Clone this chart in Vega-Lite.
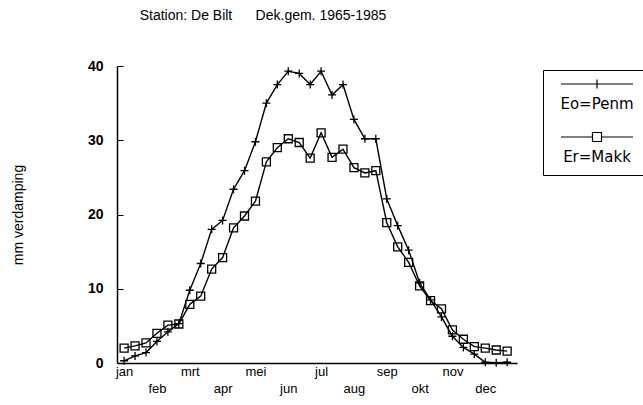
{
  "$schema": "https://vega.github.io/schema/vega-lite/v6.json",
  "width": 400,
  "height": 297,
  "autosize": "none",
  "padding": {"left": 117, "top": 66, "right": 126, "bottom": 42},
  "background": "white",
  "config": {"view": {"stroke": null}, "font": "Liberation Sans"},
  "title": {
    "text": "Station: De Bilt\u00a0\u00a0\u00a0\u00a0\u00a0\u00a0Dek.gem. 1965-1985",
    "fontSize": 14,
    "fontWeight": "normal",
    "font": "Liberation Sans",
    "color": "black",
    "anchor": "middle",
    "offset": 36,
    "dx": -54
  },
  "data": {
    "values": [
      {"dek": 1, "serie": "Eo=Penm", "mm": 0.3},
      {"dek": 2, "serie": "Eo=Penm", "mm": 0.95},
      {"dek": 3, "serie": "Eo=Penm", "mm": 1.4},
      {"dek": 4, "serie": "Eo=Penm", "mm": 2.9},
      {"dek": 5, "serie": "Eo=Penm", "mm": 4.2},
      {"dek": 6, "serie": "Eo=Penm", "mm": 5.3},
      {"dek": 7, "serie": "Eo=Penm", "mm": 9.8},
      {"dek": 8, "serie": "Eo=Penm", "mm": 13.4},
      {"dek": 9, "serie": "Eo=Penm", "mm": 18.0},
      {"dek": 10, "serie": "Eo=Penm", "mm": 19.2},
      {"dek": 11, "serie": "Eo=Penm", "mm": 23.4},
      {"dek": 12, "serie": "Eo=Penm", "mm": 25.9},
      {"dek": 13, "serie": "Eo=Penm", "mm": 29.8},
      {"dek": 14, "serie": "Eo=Penm", "mm": 35.0},
      {"dek": 15, "serie": "Eo=Penm", "mm": 37.5},
      {"dek": 16, "serie": "Eo=Penm", "mm": 39.3},
      {"dek": 17, "serie": "Eo=Penm", "mm": 39.0},
      {"dek": 18, "serie": "Eo=Penm", "mm": 37.5},
      {"dek": 19, "serie": "Eo=Penm", "mm": 39.3},
      {"dek": 20, "serie": "Eo=Penm", "mm": 36.1},
      {"dek": 21, "serie": "Eo=Penm", "mm": 37.5},
      {"dek": 22, "serie": "Eo=Penm", "mm": 32.8},
      {"dek": 23, "serie": "Eo=Penm", "mm": 30.2},
      {"dek": 24, "serie": "Eo=Penm", "mm": 30.2},
      {"dek": 25, "serie": "Eo=Penm", "mm": 22.1},
      {"dek": 26, "serie": "Eo=Penm", "mm": 18.5},
      {"dek": 27, "serie": "Eo=Penm", "mm": 15.2},
      {"dek": 28, "serie": "Eo=Penm", "mm": 10.8},
      {"dek": 29, "serie": "Eo=Penm", "mm": 8.5},
      {"dek": 30, "serie": "Eo=Penm", "mm": 6.2},
      {"dek": 31, "serie": "Eo=Penm", "mm": 3.6},
      {"dek": 32, "serie": "Eo=Penm", "mm": 2.1},
      {"dek": 33, "serie": "Eo=Penm", "mm": 1.2},
      {"dek": 34, "serie": "Eo=Penm", "mm": 0.1},
      {"dek": 35, "serie": "Eo=Penm", "mm": 0.05},
      {"dek": 36, "serie": "Eo=Penm", "mm": 0.1},
      {"dek": 1, "serie": "Er=Makk", "mm": 2.0},
      {"dek": 2, "serie": "Er=Makk", "mm": 2.3},
      {"dek": 3, "serie": "Er=Makk", "mm": 2.7},
      {"dek": 4, "serie": "Er=Makk", "mm": 4.0},
      {"dek": 5, "serie": "Er=Makk", "mm": 5.1},
      {"dek": 6, "serie": "Er=Makk", "mm": 5.25},
      {"dek": 7, "serie": "Er=Makk", "mm": 7.9},
      {"dek": 8, "serie": "Er=Makk", "mm": 9.0},
      {"dek": 9, "serie": "Er=Makk", "mm": 12.65},
      {"dek": 10, "serie": "Er=Makk", "mm": 14.2},
      {"dek": 11, "serie": "Er=Makk", "mm": 18.2},
      {"dek": 12, "serie": "Er=Makk", "mm": 19.8},
      {"dek": 13, "serie": "Er=Makk", "mm": 21.8},
      {"dek": 14, "serie": "Er=Makk", "mm": 27.1},
      {"dek": 15, "serie": "Er=Makk", "mm": 29.0},
      {"dek": 16, "serie": "Er=Makk", "mm": 30.2},
      {"dek": 17, "serie": "Er=Makk", "mm": 29.7},
      {"dek": 18, "serie": "Er=Makk", "mm": 27.6},
      {"dek": 19, "serie": "Er=Makk", "mm": 31.0},
      {"dek": 20, "serie": "Er=Makk", "mm": 27.7},
      {"dek": 21, "serie": "Er=Makk", "mm": 28.8},
      {"dek": 22, "serie": "Er=Makk", "mm": 26.3},
      {"dek": 23, "serie": "Er=Makk", "mm": 25.6},
      {"dek": 24, "serie": "Er=Makk", "mm": 25.9},
      {"dek": 25, "serie": "Er=Makk", "mm": 18.9},
      {"dek": 26, "serie": "Er=Makk", "mm": 15.65},
      {"dek": 27, "serie": "Er=Makk", "mm": 13.55},
      {"dek": 28, "serie": "Er=Makk", "mm": 10.4},
      {"dek": 29, "serie": "Er=Makk", "mm": 8.4},
      {"dek": 30, "serie": "Er=Makk", "mm": 7.3},
      {"dek": 31, "serie": "Er=Makk", "mm": 4.45},
      {"dek": 32, "serie": "Er=Makk", "mm": 3.2},
      {"dek": 33, "serie": "Er=Makk", "mm": 2.2},
      {"dek": 34, "serie": "Er=Makk", "mm": 2.0},
      {"dek": 35, "serie": "Er=Makk", "mm": 1.75},
      {"dek": 36, "serie": "Er=Makk", "mm": 1.6}
    ]
  },
  "encoding": {
    "x": {
      "field": "dek",
      "type": "quantitative",
      "scale": {"domain": [0.35, 36.9], "nice": false, "zero": false},
      "axis": {
        "title": null,
        "values": [1, 4, 7, 10, 13, 16, 19, 22, 25, 28, 31, 34],
        "labelExpr": "['jan','feb','mrt','apr','mei','jun','jul','aug','sep','okt','nov','dec'][floor((datum.value - 1) / 3)]",
        "ticks": false,
        "grid": false,
        "domainColor": "black",
        "domainWidth": 1.5,
        "labelColor": "black",
        "labelFontSize": 13,
        "labelFont": "Liberation Sans",
        "labelBaseline": "top",
        "labelPadding": {"condition": {"test": "(datum.value - 4) % 6 == 0", "value": 19}, "value": 2}
      }
    },
    "y": {
      "field": "mm",
      "type": "quantitative",
      "scale": {"domain": [0, 40], "nice": false},
      "axis": {
        "title": "mm verdamping",
        "titleFontSize": 14,
        "titleFontWeight": "normal",
        "titleFont": "Liberation Sans",
        "titleColor": "black",
        "titlePadding": 62,
        "values": [0, 10, 20, 30, 40],
        "grid": false,
        "domainColor": "black",
        "domainWidth": 1.5,
        "tickColor": "black",
        "tickSize": -6,
        "labelPadding": 20,
        "labelColor": "black",
        "labelFontSize": 14,
        "labelFontWeight": "bold",
        "labelFont": "Liberation Sans"
      }
    }
  },
  "layer": [
    {
      "mark": {"type": "line", "strokeWidth": 1.4},
      "encoding": {
        "color": {
          "field": "serie",
          "type": "nominal",
          "scale": {"domain": ["Eo=Penm", "Er=Makk"], "range": ["black", "black"]},
          "legend": {
            "title": null,
            "orient": "none",
            "legendX": 426,
            "legendY": 4,
            "strokeColor": "black",
            "padding": 10,
            "symbolSize": 2116,
            "symbolOffset": 20,
            "symbolStrokeWidth": 1.2,
            "labelFontSize": 15,
            "labelFont": "DejaVu Sans",
            "labelColor": "black",
            "labelAlign": "center",
            "labelOffset": -24,
            "rowPadding": 18,
            "encode": {
              "symbols": {
                "update": {
                  "shape": [
                    {"test": "datum.value === 'Eo=Penm'", "value": "M-1.565,-0.87H1.565M0,-1.066V-0.674"},
                    {"value": "M-1.565,-0.87H-0.196M0.196,-0.87H1.565M-0.196,-1.066H0.196V-0.674H-0.196Z"}
                  ],
                  "size": {"value": 2116},
                  "fill": {"value": "transparent"}
                }
              }
            }
          }
        }
      }
    },
    {
      "transform": [{"filter": "datum.serie === 'Eo=Penm'"}],
      "mark": {"type": "point", "shape": "M-1,0H1M0,-1V1", "filled": false, "color": "black", "strokeWidth": 1.3, "size": 64, "opacity": 1}
    },
    {
      "transform": [{"filter": "datum.serie === 'Er=Makk'"}],
      "mark": {"type": "point", "shape": "square", "filled": false, "color": "black", "strokeWidth": 1.3, "size": 64, "opacity": 1}
    }
  ]
}
